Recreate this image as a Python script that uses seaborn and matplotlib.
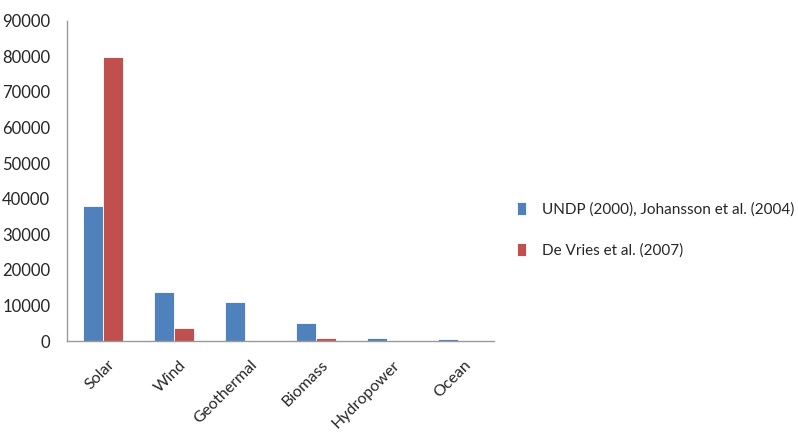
import numpy as np
import pandas as pd
import matplotlib
matplotlib.use("Agg")
import matplotlib.pyplot as plt
import seaborn as sns
from matplotlib.ticker import FixedLocator

# -------------------------------------------------------------------------
# DATA
# -------------------------------------------------------------------------
categories = ["Solar", "Wind", "Geothermal", "Biomass", "Hydropower", "Ocean"]
undp_values = [38000, 13900, 11000, 5100, 1000, 600]
devries_values = [79700, 3700, 0, 1000, 0, 0]
series_names = ["UNDP (2000), Johansson et al. (2004)", "De Vries et al. (2007)"]
y_ticks = [0, 10000, 20000, 30000, 40000, 50000, 60000, 70000, 80000, 90000]

colors = ["#4F81BD", "#C0504D"]

df = pd.DataFrame({
    "category": categories * 2,
    "value": undp_values + devries_values,
    "series": [series_names[0]] * len(categories) + [series_names[1]] * len(categories),
})

sns.set_style("white")
plt.rcParams["font.family"] = ["Lato", "DejaVu Sans"]

fig = plt.figure(figsize=(7.98, 4.43), dpi=100)
ax = fig.add_axes([0.084, 0.230, 0.535, 0.723])

sns.barplot(
    data=df, x="category", y="value", hue="series",
    order=categories, hue_order=series_names, palette=colors,
    width=0.56, ax=ax, edgecolor="white", linewidth=0.6, saturation=1,
)

ax.set_ylim(0, 90000)
ax.set_xlim(-0.5, len(categories) - 0.5)
ax.set_yticks(y_ticks)
ax.set_yticklabels([str(t) for t in y_ticks], fontsize=12)
ax.set_xlabel("")
ax.set_ylabel("")

# Excel-style: tick marks between categories, labels rotated 45 degrees
ax.set_xticks(range(len(categories)))
ax.set_xticklabels(categories, rotation=45, ha="right", va="top",
                   rotation_mode="anchor", fontsize=11.5)
ax.xaxis.set_minor_locator(FixedLocator(np.arange(-0.5, len(categories), 1.0)))
ax.tick_params(axis="x", which="major", length=0, pad=12)
ax.tick_params(axis="x", which="minor", length=5, color="#999999", direction="out")
ax.tick_params(axis="y", length=5, color="#999999", direction="out", pad=7)
shift = matplotlib.transforms.ScaledTranslation(0.05, 0, fig.dpi_scale_trans)
for lbl in ax.get_xticklabels():
    lbl.set_transform(lbl.get_transform() + shift)

for side in ["top", "right"]:
    ax.spines[side].set_visible(False)
for side in ["left", "bottom"]:
    ax.spines[side].set_color("#999999")
    ax.spines[side].set_linewidth(1.0)

handles, labels = ax.get_legend_handles_labels()
ax.legend(handles, labels, loc="center left", bbox_to_anchor=(0.648, 0.481),
          bbox_transform=fig.transFigure, frameon=False, fontsize=11,
          borderpad=0, borderaxespad=0,
          handlelength=0.6, handleheight=0.9, handletextpad=1.0, labelspacing=1.7)

plt.savefig("out.png", dpi=100)
